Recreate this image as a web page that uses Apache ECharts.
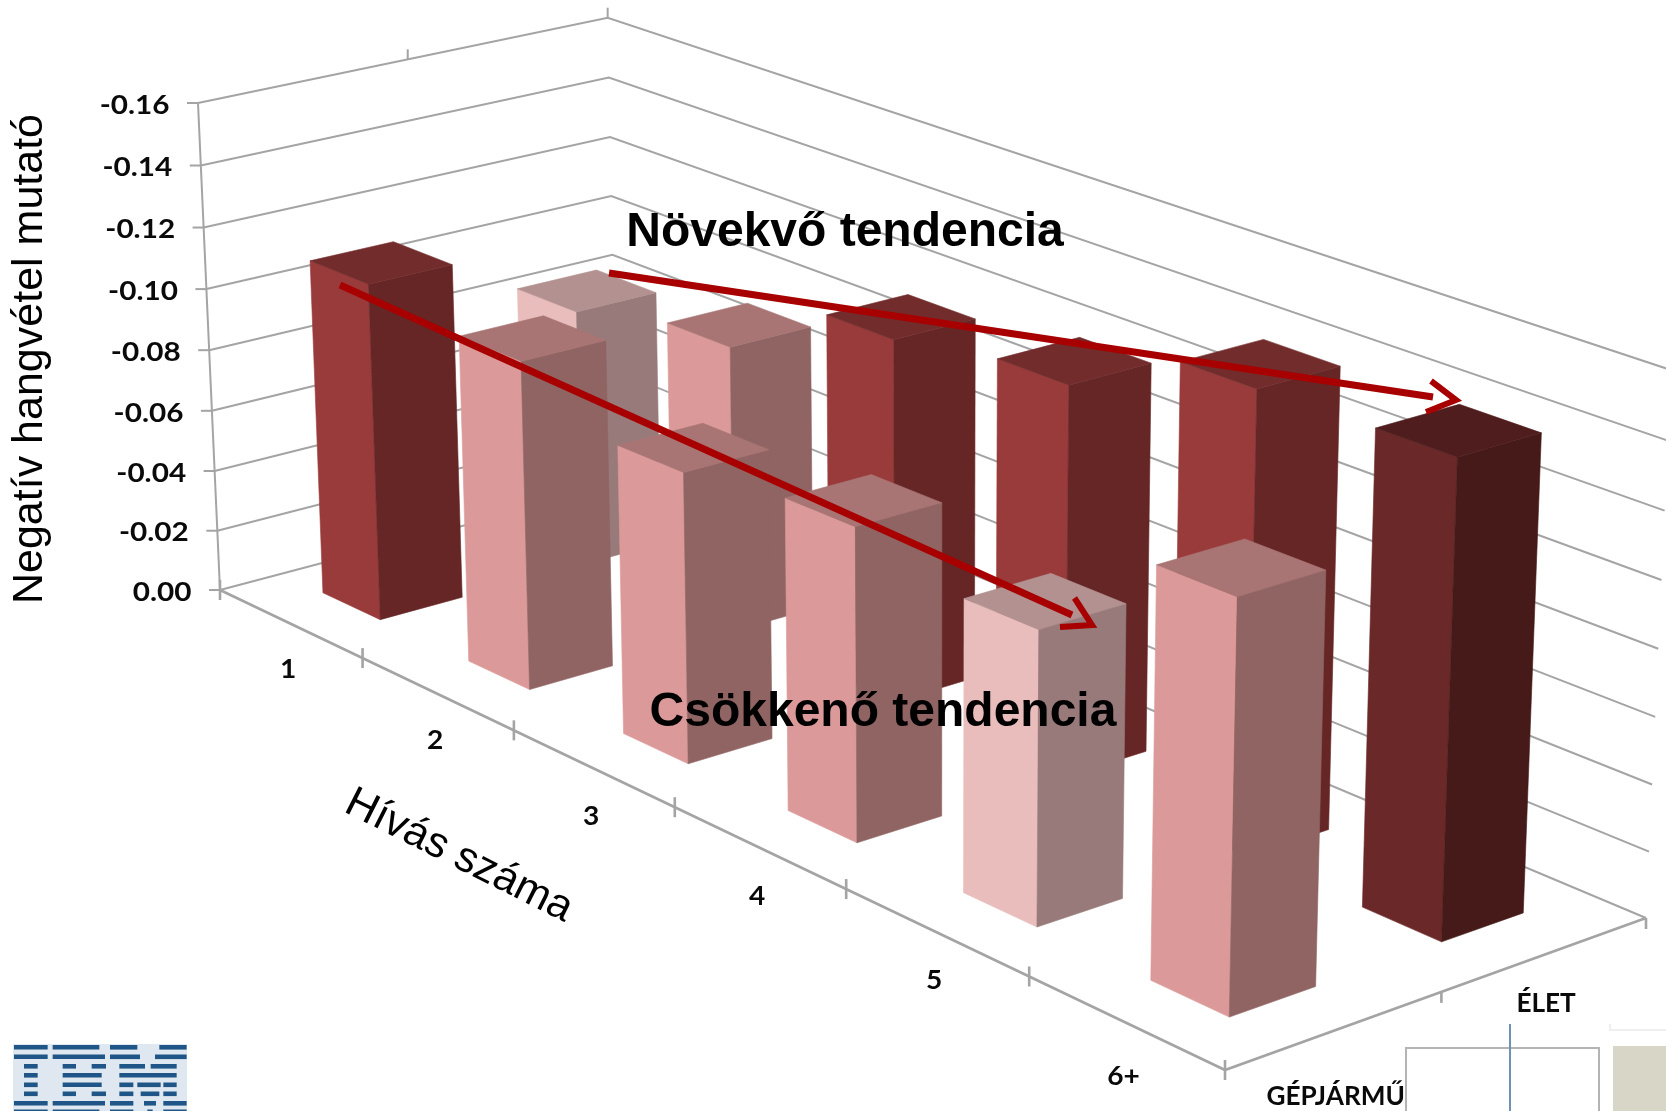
<!DOCTYPE html>
<html><head><meta charset="utf-8">
<style>html,body{margin:0;padding:0;background:#fff}#c{width:1666px;height:1111px}</style>
<script src="https://cdn.jsdelivr.net/npm/echarts@6/dist/echarts.min.js"></script>
</head><body><div id="c"></div>
<script>
// ---- data
const categories = ['1','2','3','4','5','6+'];
const depthNames = ['GÉPJÁRMŰ','ÉLET'];
const gepjarmuValues = [-0.110,-0.105,-0.091,-0.096,-0.088,-0.120];
const eletValues     = [-0.085,-0.093,-0.115,-0.121,-0.140,-0.141];
const gepjarmuTones  = ['dark','pink','pink','pink','pale','pink'];
const eletTones      = ['pale','pink','dark','dark','dark','deep'];
const valueTicks = [0,-0.02,-0.04,-0.06,-0.08,-0.10,-0.12,-0.14,-0.16];

// ---- styling
const tones = {
  dark:{left:'#9a3b3b',right:'#662626',top:'#722c2c'},
  pink:{left:'#db9a99',right:'#8f6463',top:'#a87574'},
  pale:{left:'#e8bdbb',right:'#997a7a',top:'#b29190'},
  deep:{left:'#6b2828',right:'#451a18',top:'#4f1d1d'}
};
const LINE='#a4a4a4', RED='#a80000', BAR_HALF=0.2, BAR_SHIFT=-0.008;
const LABEL_FONT='Lato', DEPTH_LABEL_DY=[66,49], CAT_LABEL_DY=[46,46.6,48.3,49,48.5,53.4];

// ---- camera: perspective fitted on the chart box corners
const camA=[220,590],camB=[1225,1070],camC=[1646,918],camD=[617,485],camE=[198,103],camF=[607.5,17];
const det=(p,q)=>p[0]*q[1]-p[1]*q[0], sub=(p,q)=>[p[0]-q[0],p[1]-q[1]];
const d1=sub(camB,camC), d2=sub(camD,camC), sq=[camA[0]-camB[0]+camC[0]-camD[0],camA[1]-camB[1]+camC[1]-camD[1]];
const wu=det(sq,d2)/det(d1,d2), wt=det(d1,sq)/det(d1,d2);
const Vu=[camB[0]*(1+wu)-camA[0],camB[1]*(1+wu)-camA[1]];
const Vt=[camD[0]*(1+wt)-camA[0],camD[1]*(1+wt)-camA[1]];
const fe=sub(camF,camE);
const rhs=[(camD[0]-camF[0])*(1+wt)-(camA[0]-camE[0]),(camD[1]-camF[1])*(1+wt)-(camA[1]-camE[1])];
const ws=(fe[0]*rhs[0]+fe[1]*rhs[1])/(fe[0]*fe[0]+fe[1]*fe[1]);
const Vs=[camE[0]*(1+ws)-camA[0],camE[1]*(1+ws)-camA[1]];
function projector(params,api){
  const r=params.coordSys;
  return function(c,d,v){           // c: category position, d: depth position, v: value
    const pt=api.coord([c,v]);
    const u=(pt[0]-r.x)/r.width, s=(pt[1]-r.y)/r.height, t=d/depthNames.length;
    const w=1+wu*u+wt*t+ws*s;
    return [(camA[0]+u*Vu[0]+t*Vt[0]+s*Vs[0])/w,(camA[1]+u*Vu[1]+t*Vt[1]+s*Vs[1])/w];
  };
}
const seg=(p,q,w)=>({type:'line',shape:{x1:p[0],y1:p[1],x2:q[0],y2:q[1]},style:{stroke:LINE,lineWidth:w||2}});
const lbl=(text,x,y,align,sx)=>({type:'text',x:x,y:y,scaleX:sx||1,style:{text:text,fill:'#0a0a0a',font:'700 27px '+LABEL_FONT,align:align,verticalAlign:'middle'}});

function renderValueTick(params,api){
  const P=projector(params,api), v=api.value(1), nc=categories.length, nd=depthNames.length;
  const a=P(0,0,v), b=P(0,nd,v), c=P(nc,nd,v);
  return {type:'group',children:[
    {type:'polyline',shape:{points:[a,b,c]},style:{stroke:LINE,lineWidth:2,fill:null}},
    seg(a,[a[0]-11,a[1]]),
    lbl(valueTicks[params.dataIndex].toFixed(2),a[0]-28.5,a[1]+2,'right',1.1)
  ]};
}
function renderFrame(params,api){
  const P=projector(params,api), nc=categories.length, nd=depthNames.length, top=valueTicks[valueTicks.length-1];
  const ch=[seg(P(0,0,0),P(0,0,top)),
            {type:'polyline',shape:{points:[P(0,0,0),P(nc,0,0),P(nc,nd,0)]},style:{stroke:LINE,lineWidth:2.6,fill:null}}];
  for(let i=1;i<=nd;i++){const p=P(0,i,top);ch.push(seg(p,[p[0],p[1]-10]));}
  for(let i=0;i<=nc;i++){const p=P(i,0,0);ch.push(seg([p[0],p[1]-10],[p[0],p[1]+10],2.6));}
  for(let i=1;i<=nd;i++){const p=P(nc,i,0);ch.push(seg(p,[p[0],p[1]+11],2.6));}
  return {type:'group',children:ch};
}
function renderCategoryLabel(params,api){
  const i=params.dataIndex, P=projector(params,api), p=P(i+0.5,0,0);
  return lbl(categories[i],p[0]-2,p[1]+CAT_LABEL_DY[i],'center',1.04);
}
function renderDepthLabel(params,api){
  const P=projector(params,api), i=params.dataIndex, p=P(categories.length,i+0.5,0);
  return lbl(depthNames[i],p[0]+1,p[1]+DEPTH_LABEL_DY[i],'center',0.97);
}
function barRenderer(depthIndex,toneList){
  return function(params,api){
    const P=projector(params,api), cx=api.value(0)+0.5+BAR_SHIFT, v=api.value(1), dc=depthIndex+0.5, h=BAR_HALF;
    const col=tones[toneList[params.dataIndex]];
    const L=cx-h,R=cx+h,N=dc-h,Fr=dc+h;
    const poly=(pts,color)=>({type:'polygon',shape:{points:pts},style:{fill:color,stroke:color,lineWidth:0.6}});
    return {type:'group',children:[
      poly([P(L,N,0),P(R,N,0),P(R,N,v),P(L,N,v)],col.left),
      poly([P(R,N,0),P(R,Fr,0),P(R,Fr,v),P(R,N,v)],col.right),
      poly([P(L,N,v),P(R,N,v),P(R,Fr,v),P(L,Fr,v)],col.top)
    ]};
  };
}

// ---- annotations
const ibmRows=[
 [[42,143],[158,298],[330,412],[478,560]],
 [[42,143],[158,315],[330,420],[465,560]],
 [[72,113],[188,228],[275,318],[358,435],[452,530]],
 [[72,113],[188,305],[358,530]],
 [[72,113],[188,305],[358,400],[412,482],[490,530]],
 [[72,113],[188,228],[275,318],[358,400],[422,478],[490,530]],
 [[42,143],[158,315],[330,400],[432,468],[490,560]],
 [[42,143],[158,298],[330,400],[442,458],[490,560]]
];
const ibmTops=[1045,1054.5,1064,1073,1082.5,1091.5,1101,1109.5];
const graphics=[];
function gText(text,x,y,size,opts){
  graphics.push(Object.assign({type:'text',x:x,y:y,z:100,style:{text:text,fill:'#000',font:(opts.weight||'400')+' '+size+'px "Liberation Sans"',align:'center',verticalAlign:'middle'}},opts.el||{}));
}
gText('Negatív hangvétel mutató',30,359,43,{el:{rotation:Math.PI/2}});
gText('Hívás száma',459,856,43,{el:{rotation:-0.465}});
gText('Növekvő tendencia',845,233,48,{weight:'700'});
gText('Csökkenő tendencia',883,713,48,{weight:'700'});
function arrow(s,e,tip,w1,w2){
  graphics.push({type:'polyline',z:101,shape:{points:[s,e]},style:{stroke:RED,lineWidth:7,fill:null}});
  graphics.push({type:'polyline',z:101,shape:{points:[w1,tip,w2]},style:{stroke:RED,lineWidth:6,fill:null,lineJoin:'miter'}});
}
arrow([609,273],[1433,397],[1456,400],[1431,381],[1426,412]);
arrow([340,285],[1072,615],[1092,625],[1074.5,598],[1060,627]);
graphics.push({type:'rect',z:99,shape:{x:13,y:1044,width:174,height:67},style:{fill:'#dfe8f0'}});
ibmRows.forEach((row,i)=>row.forEach(s=>{
  graphics.push({type:'rect',z:100,shape:{x:s[0]/3,y:ibmTops[i],width:(s[1]-s[0])/3,height:Math.min(4.6,1111-ibmTops[i])},style:{fill:'#1f5687'}});
}));
graphics.push({type:'rect',z:100,shape:{x:1406,y:1048,width:193,height:70},style:{fill:null,stroke:'#b4b4b4',lineWidth:2}});
graphics.push({type:'line',z:100,shape:{x1:1510,y1:1024,x2:1510,y2:1111},style:{stroke:'#6f93b3',lineWidth:2}});
graphics.push({type:'rect',z:100,shape:{x:1613,y:1046,width:53,height:65},style:{fill:'#d8d6c6'}});
graphics.push({type:'polyline',z:100,shape:{points:[[1610,1024],[1610,1030],[1666,1030]]},style:{stroke:'#efefef',lineWidth:2,fill:null}});

const chart=echarts.init(document.getElementById('c'),null,{renderer:'canvas'});
const idx=a=>a.map((v,i)=>[i,v]);
chart.setOption({
  animation:false,
  backgroundColor:'#fff',
  grid:{left:0,right:0,top:0,bottom:0},
  xAxis:{type:'value',min:0,max:categories.length,show:false},
  yAxis:{type:'value',min:valueTicks[valueTicks.length-1],max:0,show:false},
  graphic:{elements:graphics},
  series:[
    {type:'custom',name:'valueTicks',coordinateSystem:'cartesian2d',renderItem:renderValueTick,data:valueTicks.map(v=>[0,v]),encode:{x:0,y:1},silent:true},
    {type:'custom',name:'frame',coordinateSystem:'cartesian2d',renderItem:renderFrame,data:[[0,0]],silent:true},
    {type:'custom',name:'categories',coordinateSystem:'cartesian2d',renderItem:renderCategoryLabel,data:categories.map((c,i)=>[i,0]),silent:true},
    {type:'custom',name:'depth',coordinateSystem:'cartesian2d',renderItem:renderDepthLabel,data:depthNames.map((c,i)=>[i,0]),silent:true},
    {type:'custom',name:depthNames[1],coordinateSystem:'cartesian2d',renderItem:barRenderer(1,eletTones),data:idx(eletValues),encode:{x:0,y:1},silent:true},
    {type:'custom',name:depthNames[0],coordinateSystem:'cartesian2d',renderItem:barRenderer(0,gepjarmuTones),data:idx(gepjarmuValues),encode:{x:0,y:1},silent:true}
  ]
});
</script></body></html>
